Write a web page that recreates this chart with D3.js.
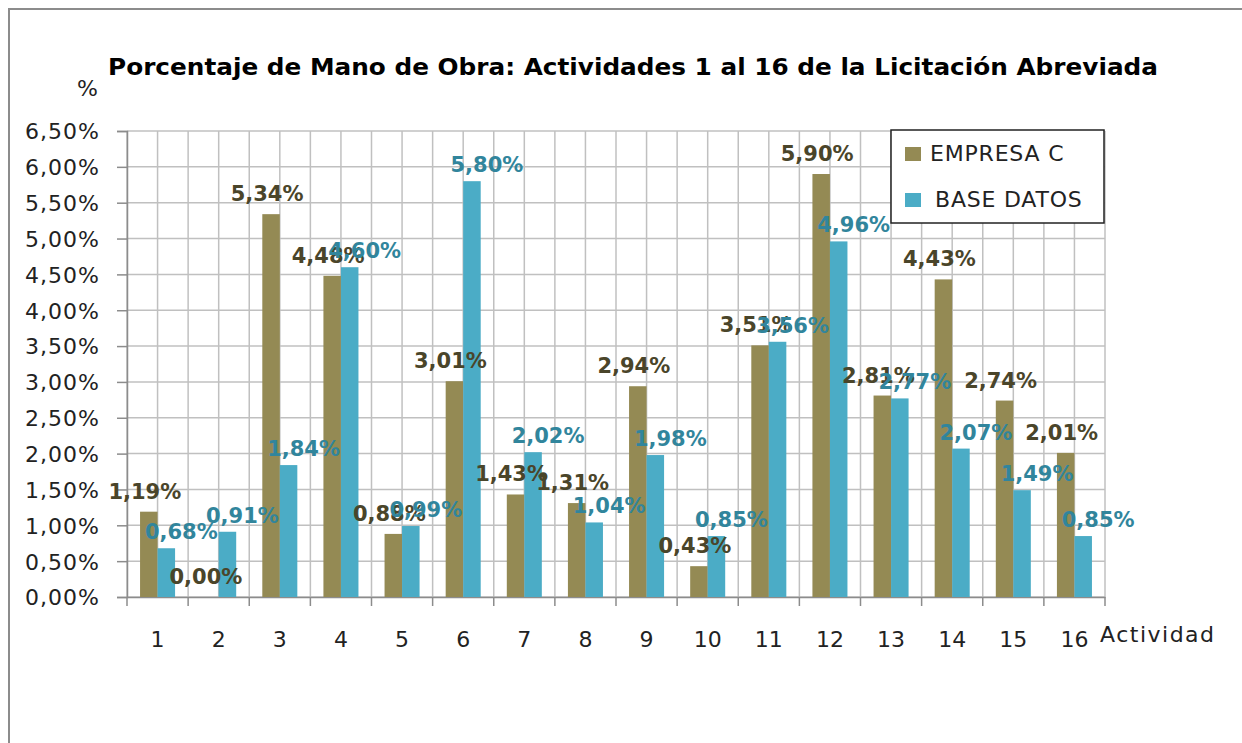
<!DOCTYPE html>
<html>
<head>
<meta charset="utf-8">
<script src="https://cdn.jsdelivr.net/npm/d3@7"></script>
<style>
	html, body { margin: 0; padding: 0; background: #fff; }
</style>
</head>
<body>
<script>
var actividades = ["1", "2", "3", "4", "5", "6", "7", "8", "9", "10", "11", "12", "13", "14", "15", "16"];
var series = ["EMPRESA C", "BASE DATOS"];
var empresaC = [1.19, 0.00, 5.34, 4.48, 0.88, 3.01, 1.43, 1.31, 2.94, 0.43, 3.51, 5.90, 2.81, 4.43, 2.74, 2.01];
var baseDatos = [0.68, 0.91, 1.84, 4.60, 0.99, 5.80, 2.02, 1.04, 1.98, 0.85, 3.56, 4.96, 2.77, 2.07, 1.49, 0.85];
var yTicks = [0, 0.5, 1, 1.5, 2, 2.5, 3, 3.5, 4, 4.5, 5, 5.5, 6, 6.5];

var width = 1242,
	height = 743;

var barColors = ["#948a54", "#4bacc6"];
var labelColors = ["#4a452a", "#31859c"];

var plot = {left: 127, right: 1105, top: 131, bottom: 597};

var FONT = "'DejaVu Sans', Verdana, sans-serif";

function fmt(v) {
	return v.toFixed(2).replace(".", ",") + "%";
}

var svg = d3.select("body").append("svg")
	.attr("width", width)
	.attr("height", height);

// chart frame
svg.append("rect")
	.attr("x", 9)
	.attr("y", 9)
	.attr("width", 1260)
	.attr("height", 760)
		.style("fill", "#fff")
		.style("stroke", "#8c8c8c")
		.style("stroke-width", 2);

var x0 = d3.scaleBand()
	.domain(actividades)
	.range([plot.left, plot.right])
	.paddingInner(0)
	.paddingOuter(0);

var groupW = x0.bandwidth() * 0.573;

var x1 = d3.scaleBand()
	.domain(series)
	.range([0, groupW]);

var y = d3.scaleLinear()
	.domain([0, 6.5])
	.range([plot.bottom, plot.top]);

// gridlines
var grid = svg.append("g");

grid.selectAll("line.h")
	.data(yTicks)
	.enter().append("line")
	.attr("class", "h")
	.attr("x1", plot.left)
	.attr("x2", plot.right)
	.attr("y1", function(d) { return y(d); })
	.attr("y2", function(d) { return y(d); })
		.style("stroke", "#c0c0c0")
		.style("stroke-width", 1.5);

var vPos = [];
actividades.forEach(function(a) {
	vPos.push(x0(a));
	vPos.push(x0(a) + x0.bandwidth() / 2);
});
vPos.push(plot.right);

grid.selectAll("line.v")
	.data(vPos)
	.enter().append("line")
	.attr("class", "v")
	.attr("x1", function(d) { return d; })
	.attr("x2", function(d) { return d; })
	.attr("y1", plot.top)
	.attr("y2", plot.bottom)
		.style("stroke", "#c0c0c0")
		.style("stroke-width", 1.5);

// axes
var yAxis = svg.append("g")
	.attr("transform", "translate(" + plot.left + ",0)")
	.call(d3.axisLeft(y).tickValues(yTicks).tickSize(10).tickPadding(17).tickFormat(fmt));

yAxis.select(".domain").style("stroke", "#8c8c8c").style("stroke-width", 1.5);
yAxis.selectAll(".tick line").style("stroke", "#8c8c8c").style("stroke-width", 1.5);
yAxis.selectAll(".tick text")
	.style("font-family", FONT)
	.style("font-size", "22px")
	.style("letter-spacing", "1px")
	.style("fill", "#222")
	.attr("dy", "0.36em");

var xAxis = svg.append("g")
	.attr("transform", "translate(0," + plot.bottom + ")")
	.call(d3.axisBottom(x0).tickSize(0).tickPadding(34));

xAxis.select(".domain").style("stroke", "#8c8c8c").style("stroke-width", 1.5);
xAxis.selectAll(".tick text")
	.style("font-family", FONT)
	.style("font-size", "22px")
	.style("fill", "#222");

// ticks on category boundaries
svg.append("g").selectAll("line")
	.data(actividades.map(function(a) { return x0(a); }).concat([plot.right]))
	.enter().append("line")
	.attr("x1", function(d) { return d; })
	.attr("x2", function(d) { return d; })
	.attr("y1", plot.bottom)
	.attr("y2", plot.bottom + 9)
		.style("stroke", "#8c8c8c")
		.style("stroke-width", 1.5);

// bars
var values = [empresaC, baseDatos];
var rows = [];
series.forEach(function(s, si) {
	actividades.forEach(function(a, i) {
		rows.push({serie: s, si: si, act: a, v: values[si][i]});
	});
});

function barX(d) {
	return x0(d.act) + (x0.bandwidth() - groupW) / 2 + x1(d.serie);
}

svg.append("g").selectAll("rect")
	.data(rows)
	.enter().append("rect")
	.attr("x", barX)
	.attr("y", function(d) { return y(d.v); })
	.attr("width", x1.bandwidth())
	.attr("height", function(d) { return y(0) - y(d.v); })
		.style("fill", function(d) { return barColors[d.si]; });

// data labels
var labelDx = [-4, 15],
	labelGap = [13, 9];

svg.append("g").selectAll("text")
	.data(rows)
	.enter().append("text")
	.attr("x", function(d) { return barX(d) + x1.bandwidth() / 2 + labelDx[d.si]; })
	.attr("y", function(d) { return y(d.v) - labelGap[d.si]; })
	.attr("text-anchor", "middle")
		.style("font-family", FONT)
		.style("font-size", "21px")
		.style("font-weight", "bold")
		.style("fill", function(d) { return labelColors[d.si]; })
	.text(function(d) { return fmt(d.v); });

// title and axis names
svg.append("text")
	.attr("x", 108)
	.attr("y", 75)
	.attr("textLength", 1050)
	.attr("lengthAdjust", "spacingAndGlyphs")
		.style("font-family", FONT)
		.style("font-size", "23px")
		.style("font-weight", "bold")
		.style("fill", "#000")
	.text("Porcentaje de Mano de Obra: Actividades 1 al 16 de la Licitación Abreviada");

svg.append("text")
	.attr("x", 98)
	.attr("y", 96)
	.attr("text-anchor", "end")
		.style("font-family", FONT)
		.style("font-size", "22px")
		.style("fill", "#222")
	.text("%");

svg.append("text")
	.attr("x", 1100)
	.attr("y", 642)
		.style("font-family", FONT)
		.style("font-size", "22px")
		.style("letter-spacing", "1.5px")
		.style("fill", "#222")
	.text("Actividad");

// legend
var legend = svg.append("g")
	.attr("transform", "translate(891,130)");

legend.append("rect")
	.attr("width", 213)
	.attr("height", 93)
		.style("fill", "#fff")
		.style("stroke", "#222")
		.style("stroke-width", 1.5);

var item = legend.selectAll("g")
	.data(series)
	.enter().append("g")
	.attr("transform", function(d, i) { return "translate(14," + (17 + i * 46) + ")"; });

item.append("rect")
	.attr("width", 16)
	.attr("height", 14)
		.style("fill", function(d, i) { return barColors[i]; });

item.append("text")
	.attr("x", function(d, i) { return i === 0 ? 25 : 30; })
	.attr("y", 14)
		.style("font-family", FONT)
		.style("font-size", "22px")
		.style("letter-spacing", "0.8px")
		.style("fill", "#222")
	.text(function(d) { return d; });
</script>
</body>
</html>
